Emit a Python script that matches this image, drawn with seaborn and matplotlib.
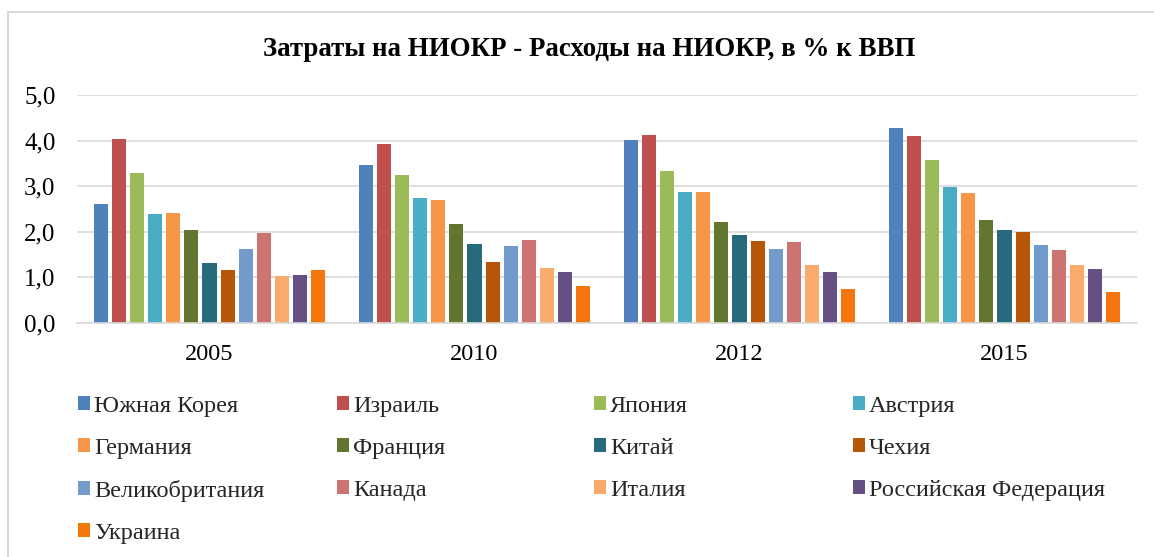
import matplotlib
matplotlib.use("Agg")
import matplotlib.pyplot as plt
import seaborn as sns
import pandas as pd
from matplotlib.patches import Rectangle

years = ["2005", "2010", "2012", "2015"]
countries = ["Южная Корея", "Израиль", "Япония", "Австрия", "Германия", "Франция",
             "Китай", "Чехия", "Великобритания", "Канада", "Италия",
             "Российская Федерация", "Украина"]
v2005 = [2.62, 4.04, 3.30, 2.38, 2.42, 2.04, 1.32, 1.17, 1.62, 1.98, 1.04, 1.06, 1.17]
v2010 = [3.46, 3.93, 3.25, 2.74, 2.70, 2.17, 1.73, 1.34, 1.69, 1.83, 1.21, 1.12, 0.82]
v2012 = [4.02, 4.13, 3.34, 2.88, 2.87, 2.22, 1.93, 1.79, 1.62, 1.78, 1.27, 1.12, 0.75]
v2015 = [4.28, 4.10, 3.57, 2.98, 2.86, 2.25, 2.04, 2.00, 1.70, 1.61, 1.28, 1.19, 0.67]
colors = ["#4F81BD", "#C0504D", "#9BBB59", "#4BACC6", "#F79646", "#63762F",
          "#276A7B", "#B65708", "#729ACA", "#CD7371", "#F9AB6B", "#664F83", "#F4760C"]
title = "Затраты на НИОКР - Расходы на НИОКР, в % к ВВП"
yticks = [0, 1, 2, 3, 4, 5]

rows = []
for yr, vals in zip(years, [v2005, v2010, v2012, v2015]):
    for c, v in zip(countries, vals):
        rows.append({"year": yr, "country": c, "value": v})
df = pd.DataFrame(rows)

sns.set_style("white")
plt.rcParams["font.family"] = ["Liberation Serif", "DejaVu Serif"]

W, H = 1154, 557
fig = plt.figure(figsize=(W / 100, H / 100), dpi=100)
ax = fig.add_axes([77 / W, 1 - 323 / H, (1137 - 77) / W, (323 - 95) / H])

sns.barplot(data=df, x="year", y="value", hue="country", hue_order=countries,
            palette=colors, width=0.89, gap=0.22, linewidth=0, saturation=1,
            ax=ax, legend=True)

handles, labels = ax.get_legend_handles_labels()
ax.get_legend().remove()

ax.set_ylim(0, 5)
ax.set_yticks(yticks)
ax.set_yticklabels([f"{t:.1f}".replace(".", ",") for t in yticks], fontsize=18, color="#000000")
ax.tick_params(axis="x", labelsize=17.5, pad=15, length=0, colors="#000000")
ax.tick_params(axis="y", length=0, pad=15.5)
ax.set_xlabel("")
ax.set_ylabel("")
ax.grid(axis="y", color="#D9D9D9", linewidth=1.2)
ax.set_axisbelow(True)
for s in ["top", "right", "left"]:
    ax.spines[s].set_visible(False)
ax.spines["bottom"].set_color("#D9D9D9")
ax.spines["bottom"].set_linewidth(1.2)

fig.text(589 / W, 1 - 49 / H, title, ha="center", va="center",
         fontsize=19.4, fontweight="bold", color="#000000")

# border of chart area
fig.patches.append(Rectangle((8 / W, -0.1), 1.2, 1 - 12 / H + 0.1,
                             transform=fig.transFigure, fill=False,
                             edgecolor="#D9D9D9", linewidth=1.5))

col_x = [78, 337, 594, 853]
for j in range(4):
    idx = list(range(j, len(countries), 4))
    fig.legend([handles[i] for i in idx], [labels[i] for i in idx],
               loc="upper left", bbox_to_anchor=(col_x[j] / W, 1 - 396 / H),
               frameon=False, fontsize=17.5, handlelength=0.5, handleheight=0.5,
               handletextpad=0.15, labelspacing=0.86, borderpad=0,
               borderaxespad=0)

fig.savefig("out.png", dpi=100)
